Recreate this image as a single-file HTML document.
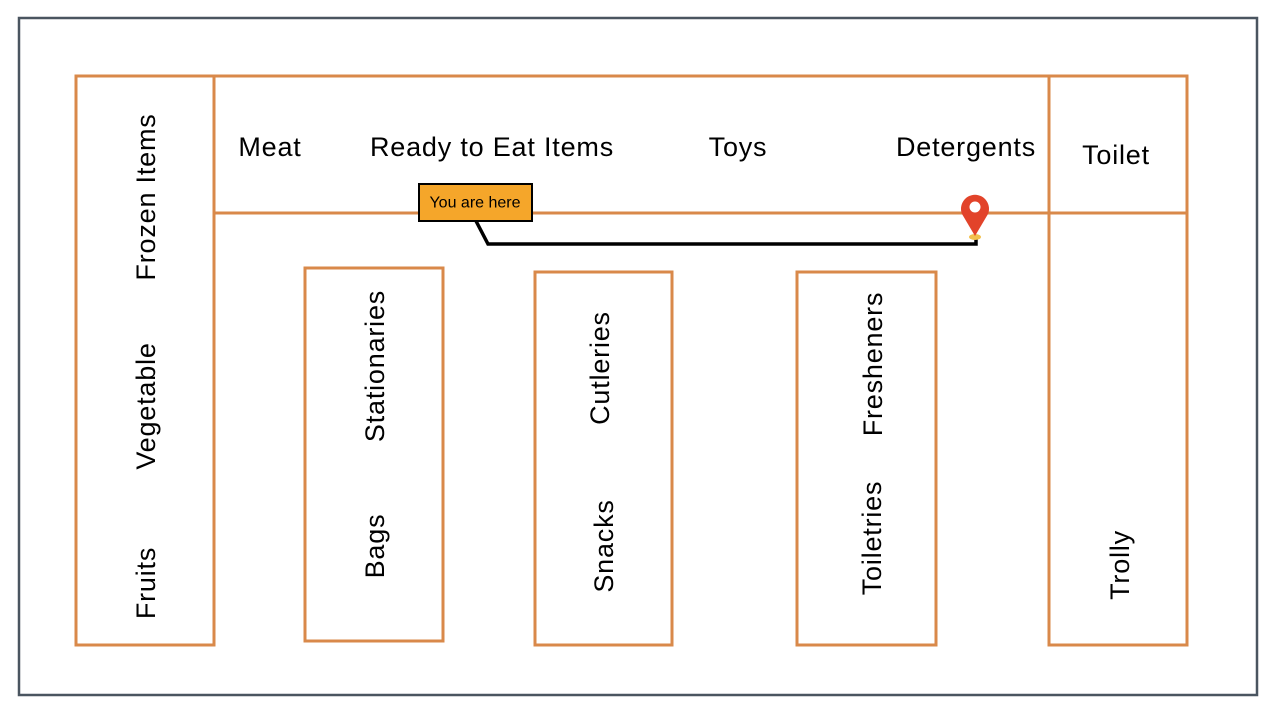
<!DOCTYPE html>
<html><head><style>body{margin:0;background:#fff}svg{display:block}text{font-family:"Liberation Sans",sans-serif;font-size:27px;letter-spacing:0.8px;fill:#000}</style></head>
<body>
<svg width="1280" height="720" viewBox="0 0 1280 720">
<rect x="19" y="18" width="1238" height="677" fill="#fff" stroke="#4a5560" stroke-width="2.5"/>
<g fill="none" stroke="#d9894a" stroke-width="3">
<rect x="76" y="76" width="138" height="569"/>
<rect x="214" y="76" width="835" height="137"/>
<rect x="1049" y="76" width="138" height="569"/>
<line x1="1049" y1="213" x2="1187" y2="213"/>
<rect x="305" y="268" width="138" height="373"/>
<rect x="535" y="272" width="137" height="373"/>
<rect x="797" y="272" width="139" height="373"/>
</g>
<g text-anchor="middle" dominant-baseline="central">
<text x="270" y="147">Meat</text>
<text x="492" y="147">Ready to Eat Items</text>
<text x="738" y="147">Toys</text>
<text x="966" y="147">Detergents</text>
<text x="1116" y="155">Toilet</text>
<text transform="translate(146,197) rotate(-90)">Frozen Items</text>
<text transform="translate(146,406) rotate(-90)">Vegetable</text>
<text transform="translate(146,583) rotate(-90)">Fruits</text>
<text transform="translate(375,366) rotate(-90)">Stationaries</text>
<text transform="translate(375,546) rotate(-90)">Bags</text>
<text transform="translate(600,368) rotate(-90)">Cutleries</text>
<text transform="translate(604,546) rotate(-90)">Snacks</text>
<text transform="translate(873,364) rotate(-90)">Fresheners</text>
<text transform="translate(872,538) rotate(-90)">Toiletries</text>
<text transform="translate(1120,565) rotate(-90)">Trolly</text>
</g>
<polyline points="476,221 488,244 976,244 976,238" fill="none" stroke="#000" stroke-width="3.5"/>
<rect x="419" y="184" width="113" height="37" fill="#f5a62a" stroke="#000" stroke-width="2"/>
<text x="475" y="203" text-anchor="middle" dominant-baseline="central" style="font-size:16px;letter-spacing:0">You are here</text>
<ellipse cx="975" cy="237" rx="6" ry="3" fill="#f2c14e"/>
<path d="M975,236 L962,214 A14,14 0 1 1 988,214 Z" fill="#e2432a"/>
<circle cx="975" cy="207" r="5.5" fill="#fff"/>
</svg>
</body></html>
